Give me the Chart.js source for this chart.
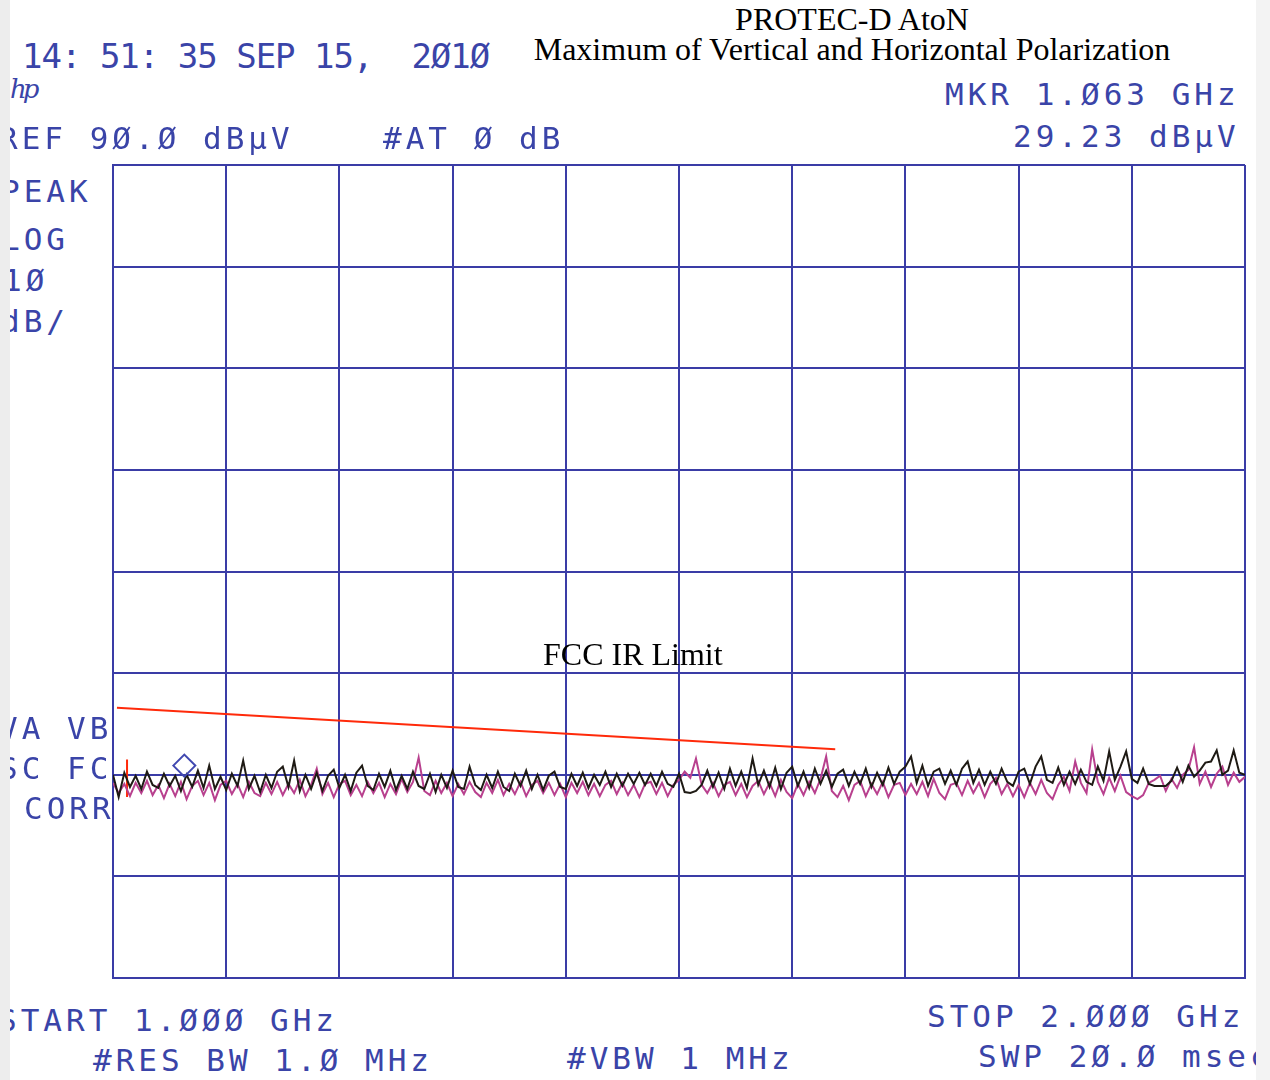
<!DOCTYPE html>
<html>
<head>
<meta charset="utf-8">
<script src="https://cdn.jsdelivr.net/npm/chart.js@4.4.0/dist/chart.umd.min.js"></script>
<style>
  body { margin: 0; background: #fff; }
  #page { position: relative; width: 1270px; height: 1080px; overflow: hidden; background: #fff; }
  #wrap { position: absolute; left: 103px; top: 155px; width: 1152px; height: 832px; }
  .m { position: absolute; font-family: "DejaVu Sans Mono", monospace; font-size: 31px; line-height: 31px;
       letter-spacing: 4px; color: #3a44a8; white-space: pre; }
  .s { position: absolute; font-family: "Liberation Serif", "Times New Roman", serif; font-size: 32px;
       line-height: 32px; color: #000; white-space: pre; }
  .strip { position: absolute; top: 0; height: 1080px; background: #ededed; }
</style>
</head>
<body>
<div id="page">
  <div id="wrap"><canvas id="analisador"></canvas></div>

  <div class="s" style="left:0;width:1704px;text-align:center;top:3px;">PROTEC-D AtoN</div>
  <div class="s" style="left:0;width:1704px;text-align:center;top:33px;">Maximum of Vertical and Horizontal Polarization</div>
  <div class="s" style="left:543px;top:638px;">FCC IR Limit</div>

  <div class="m" style="left:22px;top:39px;font-size:34px;line-height:34px;letter-spacing:-1px;">14: 51: 35 SEP 15,  2Ø1Ø</div>
  <div class="m" style="left:10px;top:76px;font-size:26px;line-height:26px;letter-spacing:-4px;font-style:italic;font-family:'DejaVu Serif';">hp</div>
  <div class="m" style="left:-1px;top:123px;">REF 9Ø.Ø dBµV</div>
  <div class="m" style="left:383px;top:123px;">#AT Ø dB</div>
  <div class="m" style="left:945px;top:79px;">MKR 1.Ø63 GHz</div>
  <div class="m" style="left:1013px;top:121px;">29.23 dBµV</div>
  <div class="m" style="left:1px;top:176px;">PEAK</div>
  <div class="m" style="left:1px;top:224px;">LOG</div>
  <div class="m" style="left:3px;top:265px;">1Ø</div>
  <div class="m" style="left:1px;top:306px;">dB/</div>
  <div class="m" style="left:-1px;top:713px;">VA VB</div>
  <div class="m" style="left:-1px;top:753px;">SC FC</div>
  <div class="m" style="left:24px;top:793px;">CORR</div>
  <div class="m" style="left:-2px;top:1005px;">START 1.ØØØ GHz</div>
  <div class="m" style="left:93px;top:1045px;">#RES BW 1.Ø MHz</div>
  <div class="m" style="left:567px;top:1043px;">#VBW 1 MHz</div>
  <div class="m" style="left:927px;top:1001px;">STOP 2.ØØØ GHz</div>
  <div class="m" style="left:978px;top:1041px;">SWP 2Ø.Ø msec</div>

  <div class="strip" style="left:0;width:10px;"></div>
  <div class="strip" style="left:1256px;width:14px;background:#f3f3f3;"></div>
</div>

<script>
// varredura do analisador: 1.0 a 2.0 GHz, escala 10 dB/div com ref 90 dBuV
const inicio_ghz = 1.0
const fim_ghz = 2.0
const ref_dbuv = 90
const base_dbuv = 10

// traço preto (dBuV)
const traco_preto = [
    30.0, 27.8, 30.2, 28.8, 29.9, 28.6, 30.3, 29.0, 28.7, 30.1,
    28.9, 29.9, 28.4, 30.0, 28.8, 30.4, 28.7, 30.9, 28.6, 29.8,
    28.5, 30.1, 28.9, 31.4, 28.6, 29.9, 28.3, 30.0, 28.7, 30.3,
    30.8, 28.8, 31.4, 28.4, 30.0, 28.6, 30.2, 28.4, 29.9, 30.5,
    28.7, 30.0, 28.4, 30.2, 30.9, 28.9, 28.5, 30.1, 28.8, 30.4,
    28.5, 29.9, 28.6, 30.3, 28.9, 28.6, 30.1, 28.3, 30.0, 28.7,
    30.4, 28.8, 28.6, 30.8, 29.0, 28.5, 30.0, 28.7, 30.3, 28.8,
    28.4, 30.1, 28.9, 30.4, 28.6, 30.0, 28.5, 29.9, 30.3, 28.8,
    28.6, 30.1, 28.9, 30.2, 28.7, 30.0, 29.0, 30.3, 28.8, 30.1,
    28.9, 30.1, 29.1, 30.2, 29.0, 30.1, 28.9, 30.3, 29.1, 28.8,
    30.1, 28.3, 28.2, 28.4, 29.0, 30.4, 28.8, 30.2, 28.6, 30.6,
    28.9, 30.3, 28.7, 31.6, 29.0, 30.4, 28.8, 30.7, 28.6, 30.2,
    30.8, 28.9, 30.3, 28.7, 30.6, 29.1, 30.4, 28.8, 30.1, 30.5,
    28.9, 30.3, 29.1, 30.6, 28.8, 30.2, 29.0, 30.7, 29.1, 30.3,
    30.8, 31.8, 29.2, 30.9, 28.9, 30.3, 30.6, 29.1, 30.4, 29.0,
    30.6, 31.3, 29.2, 30.5, 29.0, 30.3, 29.1, 30.6, 29.3, 28.9,
    30.3, 30.6, 29.1, 30.8, 31.8, 29.5, 29.2, 30.7, 29.0, 30.3,
    29.1, 30.5, 29.3, 29.0, 30.8, 29.4, 32.3, 29.5, 30.8, 32.3,
    29.6, 29.2, 30.6, 29.1, 28.9, 28.9, 28.9, 29.4, 30.7, 29.3,
    30.9, 29.8, 30.4, 31.2, 31.3, 32.4, 30.0, 30.4, 32.4, 30.2, 30.0
]

// traço magenta (dBuV)
const traco_magenta = [
    29.2, 28.2, 29.1, 27.9, 29.2, 28.2, 29.4, 28.0, 29.0, 27.7,
    29.1, 27.9, 29.3, 27.6, 28.9, 29.4, 28.0, 29.2, 27.5, 29.0,
    29.4, 28.1, 29.1, 27.8, 29.3, 28.2, 27.9, 29.2, 28.1, 29.3,
    28.0, 29.1, 28.2, 29.5, 27.9, 29.0, 30.6, 28.1, 29.2, 27.8,
    29.1, 29.4, 28.0, 29.0, 27.9, 29.3, 28.2, 29.2, 27.8, 29.1,
    28.1, 29.6, 28.3, 29.3, 31.7, 28.4, 28.0, 29.4, 28.2, 29.2,
    27.9, 29.1, 28.1, 29.3, 28.3, 27.8, 29.2, 28.2, 29.5, 28.0,
    29.1, 28.1, 29.3, 27.9, 29.0, 29.4, 28.2, 29.2, 28.0, 29.1,
    27.8, 29.2, 28.2, 29.3, 28.0, 29.1, 27.9, 29.0, 29.4, 28.1,
    29.2, 28.0, 29.0, 27.8, 29.1, 29.3, 28.1, 29.2, 27.9, 29.0,
    29.5, 30.3, 29.7, 31.6, 29.0, 28.2, 29.2, 27.9, 29.0, 29.3,
    28.0, 29.1, 27.8, 28.9, 29.4, 28.1, 29.2, 27.9, 29.5, 28.3,
    27.7, 29.1, 28.0, 29.3, 28.2, 29.6, 31.8, 28.4, 27.8, 28.9,
    27.5, 29.0, 29.4, 27.9, 29.1, 28.1, 29.3, 27.8, 29.0, 29.2,
    28.0, 29.1, 28.1, 29.3, 27.9, 29.6, 28.2, 27.6, 29.0, 29.2,
    28.0, 29.4, 28.2, 29.2, 27.8, 29.1, 29.7, 28.1, 29.1, 27.9,
    29.0, 27.8, 29.2, 28.1, 29.5, 28.2, 27.6, 29.0, 29.8, 28.4,
    31.3, 29.2, 28.2, 32.5, 29.3, 28.1, 29.7, 28.4, 29.9, 28.3,
    27.9, 27.6, 28.0, 29.2, 29.5, 29.9, 28.4, 29.6, 28.7, 30.0,
    30.5, 32.7, 29.1, 30.3, 28.8, 30.1, 30.8, 29.0, 30.2, 29.3, 29.8
]

// limite FCC (GHz, dBuV)
const limite_freq = [1.0035, 1.638]
const limite_nivel = [36.6, 32.5]
// risquinho vermelho no inicio
const risco_freq = [1.0124, 1.0124]
const risco_nivel = [31.5, 27.8]
// marcador (losango)
const marcador_freq = [1.063]
const marcador_nivel = [30.9]

function monta_pontos(valores){
    var pts = []
    var passo = (fim_ghz - inicio_ghz) / (valores.length - 1)
    for(let i = 0; i < valores.length; i++){
        pts.push({x: inicio_ghz + i * passo, y: valores[i]})
    }
    return pts
}

function pares(xs, ys){
    return xs.map((x, i) => ({x: x, y: ys[i]}))
}

const cor_grade = '#3a3ca6'

const ctx = document.getElementById('analisador').getContext('2d');
const myChart = new Chart(ctx, {
    type: 'line',
    data: {
        datasets: [{
            label: 'Marcador',
            data: pares(marcador_freq, marcador_nivel),
            showLine: false,
            pointStyle: 'rectRot',
            pointRadius: 11,
            pointBorderWidth: 2,
            pointBorderColor: '#4048b0',
            pointBackgroundColor: 'rgba(0,0,0,0)'
        }, {
            label: 'Preto',
            data: monta_pontos(traco_preto),
            borderColor: '#1e1a14',
            borderWidth: 2,
            pointRadius: 0,
            tension: 0
        }, {
            label: 'Magenta',
            data: monta_pontos(traco_magenta),
            borderColor: '#b8408e',
            borderWidth: 2,
            pointRadius: 0,
            tension: 0
        }, {
            label: 'FCC IR Limit',
            data: pares(limite_freq, limite_nivel),
            borderColor: '#ff2a0a',
            borderWidth: 2,
            pointRadius: 0
        }, {
            label: 'Risco',
            data: pares(risco_freq, risco_nivel),
            borderColor: '#ff2a0a',
            borderWidth: 2,
            pointRadius: 0
        }]
    },
    options: {
        responsive: true,
        maintainAspectRatio: false,
        animation: false,
        layout: { autoPadding: false, padding: { top: 10, left: 10, right: 10, bottom: 9 } },
        plugins: {
            legend: { display: false },
            tooltip: { enabled: false }
        },
        scales: {
            x: {
                type: 'linear',
                min: inicio_ghz,
                max: fim_ghz,
                ticks: { display: false, stepSize: 0.1 },
                grid: { color: cor_grade, lineWidth: 2, drawTicks: false },
                border: { display: true, color: cor_grade, width: 2 }
            },
            y: {
                min: base_dbuv,
                max: ref_dbuv,
                ticks: { display: false, stepSize: 10 },
                grid: { color: cor_grade, lineWidth: 2, drawTicks: false },
                border: { display: true, color: cor_grade, width: 2 }
            }
        }
    }
});
</script>
</body>
</html>
